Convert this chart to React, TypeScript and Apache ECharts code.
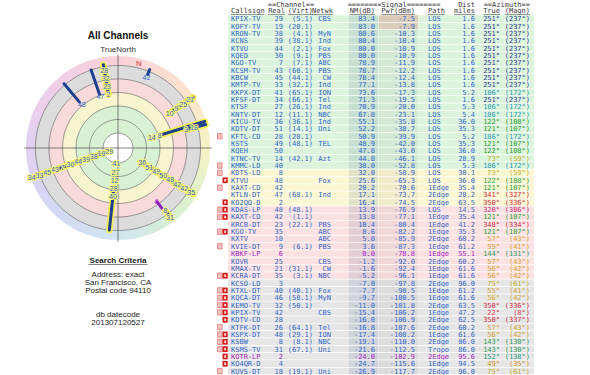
import React, { useEffect, useRef } from "react";
import * as echarts from "echarts";

// ---------------- table data ----------------
const callsigns = ["KPIX-TV","KOFY-TV","KRON-TV","KCNS","KTVU","KQED","KGO-TV","KCSM-TV","KBCW","KMTP-TV","KKPX-DT","KFSF-DT","KTSF","KNTV-DT","KICU-TV","KDTV-DT","KFTL-CD","KSTS","KQEH","KTNC-TV","KMMC-LD","KDTS-LD","KTVU","KAXT-CD","KTLN-DT","KO2QO-D","KDAS-LP","KAXT-CD","KRCB-DT","KGO-TV","KXTV","KVIE-DT","KBKF-LP","KOVR","KMAX-TV","KCRA-DT","KCSO-LD","KTXL-DT","KQCA-DT","KEMO-TV","KPIX-TV","KDTV-CD","KTFK-DT","KSPX-DT","KSBW","KSMS-TV","KOTR-LP","KO4QR-D","KUVS-DT"];
const realCh = [29,19,38,39,44,30,7,43,45,33,41,34,27,12,36,51,28,49,50,14,40,8,48,42,47,2,48,42,23,35,10,9,6,25,21,35,3,40,46,32,42,28,26,48,8,31,2,4,18];
const virtCh = ["(5.1)","(20.1)","(4.1)","(38.1)","(2.1)","(9.1)","(7.1)","(60.1)","(44.1)","(32.1)","(65.1)","(66.1)","(26.1)","(11.1)","(36.1)","(14.1)","(28.1)","(48.1)","","(42.1)","","","","","(68.1)","","(48.1)","(1.1)","(22.1)","","","(6.1)","","","(31.1)","(3.1)","","(40.1)","(58.1)","(50.1)","","","(64.1)","(29.1)","(8.1)","(67.1)","","","(19.1)"];
const networks = ["CBS","","MyN","Ind","Fox","PBS","ABC","PBS","CW","Ind","ION","Tel","Ind","NBC","Ind","Uni","","TEL","","Azt","","","Fox","","Ind","","","","PBS","ABC","ABC","PBS","","CBS","CW","NBC","","Fox","MyN","","CBS","","Tel","ION","NBC","Uni","","","Uni"];
const nmDb = [83.4,83.0,80.6,80.4,80.0,80.0,78.9,78.7,78.4,77.1,73.6,71.3,70.9,67.8,55.1,52.2,50.9,48.9,47.8,44.8,38.0,32.0,25.6,20.2,17.1,16.4,13.9,13.8,10.4,8.6,5.0,3.6,0.0,-1.2,-1.6,-5.2,-7.0,-7.7,-9.7,-11.0,-15.4,-16.0,-16.8,-17.4,-19.1,-21.6,-24.0,-24.7,-26.9];
const pwrDbm = [-7.5,-7.9,-10.3,-10.4,-10.9,-10.9,-11.9,-12.2,-12.4,-13.8,-17.3,-19.5,-20.0,-23.1,-35.8,-38.7,-39.9,-42.0,-43.0,-46.1,-52.8,-58.9,-65.3,-70.6,-73.7,-74.5,-76.9,-77.1,-80.4,-82.2,-85.9,-87.3,-78.8,-92.0,-92.4,-96.1,-97.8,-98.5,-100.5,-101.8,-106.2,-106.9,-107.6,-108.2,-110.0,-112.5,-102.9,-115.6,-117.7];
const paths = ["LOS","LOS","LOS","LOS","LOS","LOS","LOS","LOS","LOS","LOS","LOS","LOS","LOS","LOS","LOS","LOS","LOS","LOS","LOS","LOS","LOS","LOS","LOS","1Edge","2Edge","2Edge","LOS","1Edge","1Edge","1Edge","2Edge","1Edge","1Edge","2Edge","1Edge","1Edge","2Edge","1Edge","1Edge","2Edge","1Edge","2Edge","2Edge","1Edge","2Edge","Tropo","2Edge","1Edge","2Edge"];
const distMiles = [1.6,1.6,1.6,1.6,1.6,1.6,1.6,1.6,1.6,1.6,5.2,1.6,5.3,5.4,36.0,35.3,5.2,35.3,36.0,28.9,5.3,30.1,36.0,35.4,28.2,63.5,14.5,35.4,41.2,35.3,60.2,61.2,55.1,60.2,61.6,61.6,96.0,61.2,61.6,63.5,47.2,62.5,60.2,61.6,86.0,86.0,95.6,94.5,96.0];
const azTrue = [251,251,251,251,251,251,251,251,251,251,186,251,186,186,122,121,186,121,122,73,186,73,122,121,341,350,320,121,348,121,57,55,144,57,56,56,75,55,56,350,22,350,57,56,143,143,152,49,75];
const azMagn = [237,237,237,237,237,237,237,237,237,237,172,237,172,172,108,107,172,107,108,59,172,59,108,107,327,336,306,107,334,107,43,41,131,43,42,42,61,41,42,336,8,337,43,42,130,130,138,35,61];
const rowBands = ("ggggggggggggggggggggg" + "yyyyy" + "pppppppppp" + "xxxxxxxxxxxxx").split("");
const rowMarks = ("0000000000000000" + "1000" + "11210" + "2330301000" + "30333321333221").split("").map(Number);
const purpleRows = ["KBKF-LP", "KOTR-LP"];

const headerTop = ["==Channel==", "========Signal========", "Dist", "==Azimuth=="];
const headerCols = ["Callsign", "Real", "(Virt)", "Netwk", "NM(dB)", "Pwr(dBm)", "Path", "miles", "True", "(Magn)"];

// ---------------- polar data ----------------
const ringLevels = [75, 55, 35, 15, -5, -25];
const radialMin = -39;
const radialMax = 97.2;
const spokeAz = [251, 186, 121.5, 73, 75, 56, 350, 341, 320, 22, 144, 143];
const spokeLabels = [
  [29, 19, 38, 39, 44, 30, 7, 43, 45, 33, 34],
  [41, 27, 12, 28, 40],
  [36, 51, 49, 50, 48, 42, 42, 35],
  [14, 8],
  [3, 18],
  [10, 9, 25, 21],
  [2, 23, 32, 28],
  [47],
  [48],
  [42],
  [6],
  [8, 31],
];
const spokeLabelStart = [83.4, 73.6, 55.1, 44.8, -7.0, 5.0, 16.4, 17.1, 13.9, -15.4, 0.0, -19.1];
const spokeLineFrom = [83.4, 38.0, 55.1, 32.0, -7.0, 5.0, 16.4, 13.0, 8.5, -20.0, -1.5, -19.1];
const spokeLineTo = [-33, -25, -33, -37, -37, -37, -28, -25, -27, -28, -13, -26];
const spokeHalo = [1, 1, 1, 1, 1, 1, 1, 0, 0, 0, 0, 1];
const spokePurple = [0, 0, 0, 0, 0, 0, 0, 0, 0, 0, 1, 0];
const magneticDeclination = 14;

const leftTexts = ["Address: exact", "San Francisco, CA", "Postal code 94110"];
const dbTexts = ["db datecode", "201307120527"];

// ---------------- styling ----------------
const W = 590;
const H = 375;
const ROW_H = 7.35;
const TABLE_TOP = 15.3;
const MONO = '7px "DejaVu Sans Mono"';
const CW = 4.2;
const SANS = '"Liberation Sans", Arial, sans-serif';
const BLUE = "#3367cc";
const PURPLE = "#a824c8";
const HEAD = "#3a3a3a";
const COL = {
  markPink: 217.5, markRed: 222.5, bgL: 228, bgR: 534,
  call: 231, real: 283, virt: 313, net: 331,
  nmL: 349, nmR: 378, nm: 375, pwrL: 379, pwrR: 418, pwr: 415,
  path: 428, dist: 475, tru: 500, mag: 530,
};
const BAND_FILL: Record<string, string> = { g: "#dcf4dc", y: "#faf7d2", p: "#fbe1e1", x: "#e6e6e6" };
const hueRing = ["#f8d2da", "#fbe1cf", "#f5f3c5", "#d8f0cf", "#d1e6f0", "#d3d8f5", "#e1d1f3", "#f1cee7"];
const bandFills = ["#d9f1d3", "#d9f1d3", "#f7f5d0", "#f8dada", "#dcdcdc"];
const azColorStops: [number, string][] = [
  [22, "#d8384c"], [49, "#d48e2a"], [56, "#d2a22e"], [74, "#bfb01c"], [121.5, "#2f9a34"],
  [143.5, "#2e9a5c"], [152, "#2a9c78"], [186, "#2a9cb0"], [251, "#2c3a92"], [320, "#c8307a"], [345, "#d02c44"],
];

function azColor(az: number) {
  let best = azColorStops[0][1];
  let bd = 1e9;
  for (const [a, c] of azColorStops) {
    const d = Math.min(Math.abs(a - az), 360 - Math.abs(a - az));
    if (d < bd) { bd = d; best = c; }
  }
  return best;
}
function hexRgb(h: string) {
  return [parseInt(h.slice(1, 3), 16), parseInt(h.slice(3, 5), 16), parseInt(h.slice(5, 7), 16)];
}
function mix(a: string, b: string, t: number) {
  const A = hexRgb(a), B = hexRgb(b);
  return "rgb(" + A.map((v, i) => Math.round(v + (B[i] - v) * t)).join(",") + ")";
}

function txt(x: number, y: number, text: string, align: string, fill: string, font = MONO, extra: any = {}) {
  return {
    type: "text", x, y, silent: true,
    style: { text, fill, font, align, verticalAlign: "middle", textAlign: align, textVerticalAlign: "middle", ...extra },
  };
}
function rect(x: number, y: number, w: number, h: number, fill: string, extra: any = {}) {
  return { type: "rect", shape: { x, y, width: w, height: h }, style: { fill, ...extra }, silent: true };
}

function renderRow(params: any, api: any) {
  const i = params.dataIndex;
  const yc = api.coord([0, i])[1];
  const h = api.size([0, 1])[1];
  const X = (x: number) => api.coord([x, i])[0];
  const top = yc - h / 2;
  const purple = purpleRows.includes(callsigns[i]);
  const fg = purple ? PURPLE : BLUE;
  const ac = azColor(azTrue[i]);
  const ch: any[] = [];
  ch.push(rect(X(COL.bgL), top, X(COL.bgR) - X(COL.bgL), h - 0.7, BAND_FILL[rowBands[i]]));
  ch.push(rect(X(COL.nmL), top, X(COL.nmR) - X(COL.nmL), h - 0.7, "rgba(60,90,140,0.13)"));
  ch.push(rect(X(COL.pwrL), top, X(COL.pwrR) - X(COL.pwrL), h - 0.7,
    pwrDbm[i] > -10 ? "rgba(220,110,110,0.30)" : "rgba(110,100,100,0.07)"));
  const m = rowMarks[i];
  if (m === 1 || m === 3) ch.push(rect(X(COL.markPink), top + 0.8, 4.6, h - 2, "#f5c2c2", { stroke: "#e06a6a", lineWidth: 0.7 }));
  if (m === 2 || m === 3) {
    ch.push(rect(X(COL.markRed), top + 0.6, 5.2, h - 1.6, "#d81a1a"));
    ch.push(rect(X(COL.markRed) + 1.6, top + 2.2, 2, h - 4.8, "#f7d0d0"));
  }
  const ty = yc + 0.3;
  ch.push(txt(X(COL.call), ty, callsigns[i], "left", fg));
  ch.push(txt(X(COL.real), ty, String(realCh[i]), "right", fg));
  ch.push(txt(X(COL.virt), ty, virtCh[i], "right", fg));
  ch.push(txt(X(COL.net), ty, networks[i], "right", fg));
  ch.push(txt(X(COL.nm), ty, nmDb[i].toFixed(1), "right", fg));
  ch.push(txt(X(COL.pwr), ty, pwrDbm[i].toFixed(1), "right", fg));
  ch.push(txt(X(COL.path), ty, paths[i], "left", fg));
  ch.push(txt(X(COL.dist), ty, distMiles[i].toFixed(1), "right", fg));
  ch.push(txt(X(COL.tru), ty, azTrue[i] + "°", "right", ac));
  ch.push(txt(X(COL.mag), ty, "(" + azMagn[i] + "°)", "right", ac));
  return { type: "group", children: ch };
}

function renderPolarBg(params: any, api: any) {
  const cs = params.coordSys;
  const cx = cs.cx, cy = cs.cy;
  const rOf = (v: number) => { const p = api.coord([v, 0]); return Math.hypot(p[0] - cx, p[1] - cy); };
  const ch: any[] = [];
  const rEdge = rOf(radialMin);
  const rHue = rOf(ringLevels[ringLevels.length - 1]);
  const n = 72;
  for (let k = 0; k < n; k++) {
    const a0 = (k * 360) / n, a1 = ((k + 1) * 360) / n;
    const am = (a0 + a1) / 2;
    const f = am / 45;
    const j = Math.floor(f);
    const col = mix(hueRing[j % 8], hueRing[(j + 1) % 8], f - j);
    ch.push({
      type: "sector", silent: true,
      shape: { cx, cy, r0: rHue, r: rEdge, startAngle: ((a0 - 90 - 0.6) * Math.PI) / 180, endAngle: ((a1 - 90 + 0.6) * Math.PI) / 180, clockwise: true },
      style: { fill: col },
    });
  }
  for (let k = ringLevels.length - 1; k >= 1; k--) {
    ch.push({ type: "ring", silent: true, shape: { cx, cy, r: rOf(ringLevels[k]), r0: rOf(ringLevels[k - 1]) }, style: { fill: bandFills[k - 1] } });
  }
  ch.push({ type: "circle", silent: true, shape: { cx, cy, r: rOf(ringLevels[0]) }, style: { fill: "#ffffff" } });
  ringLevels.forEach((lv) => {
    ch.push({ type: "circle", silent: true, shape: { cx, cy, r: rOf(lv) }, style: { fill: "none", stroke: "#5a5a5a", lineWidth: 0.6 } });
  });
  const ax = (a: number) => api.coord([radialMin - 2.5, a]);
  const l = ax(270), r = ax(90), t = ax(0), b = ax(180);
  ch.push({ type: "line", silent: true, shape: { x1: l[0], y1: l[1], x2: r[0], y2: r[1] }, style: { stroke: "#4a4a4a", lineWidth: 0.7 } });
  ch.push({ type: "line", silent: true, shape: { x1: t[0], y1: t[1], x2: b[0], y2: b[1] }, style: { stroke: "#4a4a4a", lineWidth: 0.7 } });
  const np = api.coord([-31, magneticDeclination]);
  ch.push(txt(np[0], np[1], "N", "center", "#e03434", "8px " + SANS));
  const tn = api.coord([radialMin, 0]);
  ch.push(txt(tn[0], tn[1] - 7, "TrueNorth", "center", "#333333", "8px " + SANS));
  return { type: "group", children: ch };
}

const LABEL_STEP_PX = 8.2;
function makeSpokeRender(layer: number) {
  return (params: any, api: any) => {
    const i = params.dataIndex;
    const az = spokeAz[i];
    const cs = params.coordSys;
    const p0 = api.coord([spokeLineFrom[i], az]);
    const p1 = api.coord([spokeLineTo[i], az]);
    const ch: any[] = [];
    if (layer === 0 && spokeHalo[i]) {
      ch.push({ type: "line", silent: true, shape: { x1: p0[0], y1: p0[1], x2: p1[0], y2: p1[1] }, style: { stroke: "#f2ee55", lineWidth: 6.5, lineCap: "round" } });
    }
    if (layer === 1) {
      ch.push({ type: "line", silent: true, shape: { x1: p0[0], y1: p0[1], x2: p1[0], y2: p1[1] }, style: { stroke: spokePurple[i] ? "#8a22b8" : "#1d3f8e", lineWidth: 3, lineCap: "round" } });
    }
    if (layer === 2) {
      // px-per-unit of the radial scale, to stack labels a fixed distance apart
      const q0 = api.coord([0, az]), q1 = api.coord([10, az]);
      const pxPerUnit = Math.hypot(q1[0] - q0[0], q1[1] - q0[1]) / 10;
      spokeLabels[i].forEach((lab, k) => {
        const v = spokeLabelStart[i] - (k * LABEL_STEP_PX) / pxPerUnit;
        const p = api.coord([v, az]);
        ch.push(txt(p[0], p[1], String(lab), "center", spokePurple[i] ? PURPLE : "#2f66c8", "7px " + SANS,
          spokeHalo[i] ? { stroke: "#f6f37a", lineWidth: 2 } : {}));
      });
    }
    void cs;
    return { type: "group", children: ch };
  };
}

function buildGraphic() {
  const g: any[] = [];
  g.push(txt(118, 35, "All Channels", "center", "#111111", "bold 10px " + SANS));
  g.push(txt(118, 260, "Search Criteria", "center", "#222222", "bold 8px " + SANS));
  g.push({ type: "line", shape: { x1: 88.5, y1: 264.5, x2: 147.5, y2: 264.5 }, style: { stroke: "#333", lineWidth: 0.6 }, silent: true });
  leftTexts.forEach((s, k) => g.push(txt(118, 274 + k * 8, s, "center", "#222222", "8px " + SANS)));
  dbTexts.forEach((s, k) => g.push(txt(118, 314 + k * 8, s, "center", "#222222", "8px " + SANS)));
  // table header row 1
  const y1 = 4.5;
  g.push(txt(291, y1, headerTop[0], "center", HEAD));
  g.push(txt(394, y1, headerTop[1], "center", HEAD));
  g.push(txt(COL.dist, y1, headerTop[2], "right", HEAD));
  g.push(txt(COL.mag, y1, headerTop[3], "right", HEAD));
  // table header row 2 (underlined)
  const y2 = 11.3;
  const spec: [number, string][] = [
    [COL.call, "left"], [285, "right"], [COL.virt, "right"], [333, "right"], [COL.nm, "right"],
    [COL.pwr, "right"], [COL.path, "left"], [COL.dist, "right"], [COL.tru, "right"], [COL.mag, "right"],
  ];
  headerCols.forEach((s, k) => {
    const [x, al] = spec[k];
    g.push(txt(x, y2, s, al, HEAD));
    const w = s.length * CW;
    const xl = al === "left" ? x : x - w;
    g.push({ type: "line", silent: true, shape: { x1: xl, y1: 14.6, x2: xl + w, y2: 14.6 }, style: { stroke: HEAD, lineWidth: 0.6 } });
  });
  return g;
}

function buildOption() {
  return {
    animation: false,
    grid: { left: 0, right: 0, top: TABLE_TOP, height: ROW_H * callsigns.length, containLabel: false },
    xAxis: { type: "value", min: 0, max: W, show: false },
    yAxis: { type: "category", data: callsigns.map((_, i) => String(i)), inverse: true, show: false },
    polar: { center: [118, 148], radius: 92 },
    angleAxis: { type: "value", min: 0, max: 360, startAngle: 90, clockwise: true, show: false },
    radiusAxis: { type: "value", min: radialMin, max: radialMax, inverse: true, show: false },
    graphic: buildGraphic(),
    series: [
      {
        type: "custom", coordinateSystem: "cartesian2d", clip: false, silent: true,
        renderItem: renderRow, data: callsigns.map((_, i) => [0, i]),
      },
      { type: "custom", coordinateSystem: "polar", clip: false, silent: true, renderItem: renderPolarBg, data: [[0, 0]] },
      { type: "custom", coordinateSystem: "polar", clip: false, silent: true, renderItem: makeSpokeRender(0), data: spokeAz.map((a) => [0, a]) },
      { type: "custom", coordinateSystem: "polar", clip: false, silent: true, renderItem: makeSpokeRender(1), data: spokeAz.map((a) => [0, a]) },
      { type: "custom", coordinateSystem: "polar", clip: false, silent: true, renderItem: makeSpokeRender(2), data: spokeAz.map((a) => [0, a]) },
    ],
  };
}

export default function App() {
  const ref = useRef<HTMLDivElement>(null);
  useEffect(() => {
    if (!ref.current) return;
    const chart = echarts.init(ref.current, undefined, { renderer: "svg" });
    chart.setOption(buildOption() as any);
    return () => chart.dispose();
  }, []);
  return (
    <div
      ref={ref}
      style={{ position: "fixed", left: 0, top: 0, width: W, height: H, background: "#ffffff" }}
    />
  );
}
